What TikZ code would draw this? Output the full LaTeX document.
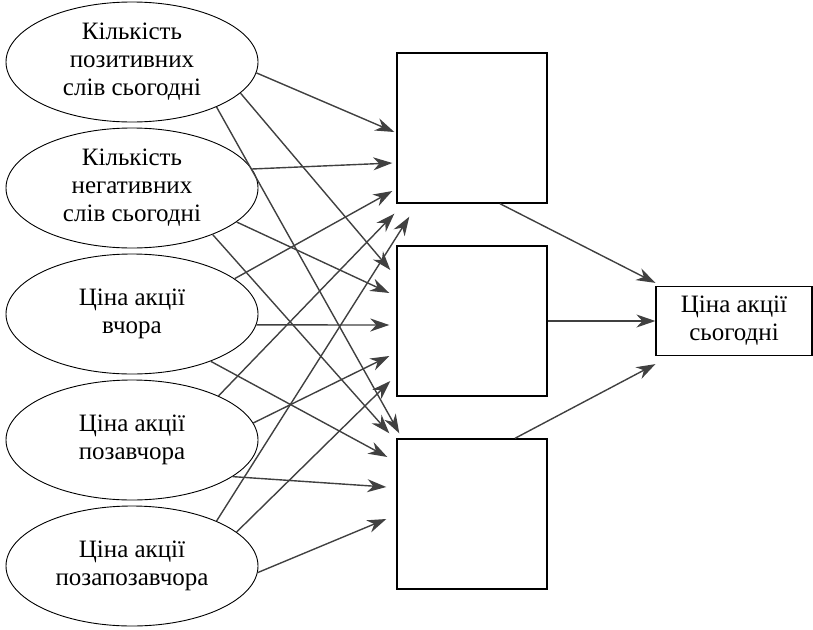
\documentclass[tikz,border=0pt]{standalone}
\usepackage{fontspec}
\setmainfont{Liberation Serif}
\usetikzlibrary{positioning,shapes.geometric,arrows.meta,calc}
\definecolor{linkgray}{HTML}{404040}

\begin{document}
\begin{tikzpicture}[x=1pt, y=-1pt,
		every node/.style = {align=center, font=\fontsize{25}{28}\selectfont},
		factor/.style = {shape=ellipse, draw, line width=0.9pt,
			minimum width=252pt, minimum height=120pt, inner sep=0pt},
		hidden/.style = {shape=rectangle, draw, line width=1.4pt,
			minimum width=150pt, minimum height=150pt},
		target/.style = {shape=rectangle, draw, line width=1.2pt,
			minimum width=156pt, minimum height=69pt},
		link/.style = {draw=linkgray, line width=1.4pt,
			-{Stealth[length=19pt, width=13pt, inset=6pt]}}]

	\useasboundingbox (0,0) rectangle (813,629);

	% inputs
	\node[factor] (pos) at (132,62) {Кількість\\позитивних\\слів сьогодні};
	\node[factor, node distance=126pt, below of=pos] (neg) {Кількість\\негативних\\слів сьогодні};
	\node[factor, node distance=126pt, below of=neg] (lag1) {Ціна акції\\вчора};
	\node[factor, node distance=126pt, below of=lag1] (lag2) {Ціна акції\\позавчора};
	\node[factor, node distance=126pt, below of=lag2] (lag3) {Ціна акції\\позапозавчора};

	% hidden layer
	\node[hidden] (h1) at (472,128) {};
	\node[hidden, node distance=193pt, below of=h1] (h2) {};
	\node[hidden, node distance=193pt, below of=h2] (h3) {};

	% output
	\node[target, node distance=262pt, right of=h2] (out) {Ціна акції\\сьогодні};

	\draw[link] (pos.-5) -- ($(h1.west)+(-2,4)$);
	\draw[link] (pos.-16) -- ($(h2.west)+(-6,-51)$);
	\draw[link] (pos.-28) -- ($(h3.north west)+(3,-5)$);

	\draw[link] (neg.9) -- ($(h1.west)+(-4,35)$);
	\draw[link] (neg.-18) -- ($(h2.west)+(-7,-28)$);
	\draw[link] (neg.-30) -- ($(h3.north west)+(-7,-5)$);

	\draw[link] (lag1.19) -- ($(h1.west)+(-4,63)$);
	\draw[link] (lag1.-5) -- ($(h2.west)+(-7,4)$);
	\draw[link] (lag1.-31) -- ($(h3.west)+(-9,-57)$);

	\draw[link] (lag2.27) -- ($(h1.south west)+(-2,10)$);
	\draw[link] (lag2.8) -- ($(h2.west)+(-7,35)$);
	\draw[link] (lag2.-20) -- ($(h3.west)+(-10,-27)$);

	\draw[link] (lag3.28) -- ($(h1.south west)+(13,13)$);
	\draw[link] (lag3.18) -- ($(h2.west)+(-6,60)$);
	\draw[link] (lag3.-3) -- ($(h3.west)+(-10,5)$);

	\draw[link] ($(h1.south)+(28,0)$) -- ($(out.north west)+(0,-3)$);
	\draw[link] (h2.east |- out.west) -- (out.west);
	\draw[link] ($(h3.north)+(43,0)$) -- ($(out.south west)+(0,8)$);
\end{tikzpicture}
\end{document}
